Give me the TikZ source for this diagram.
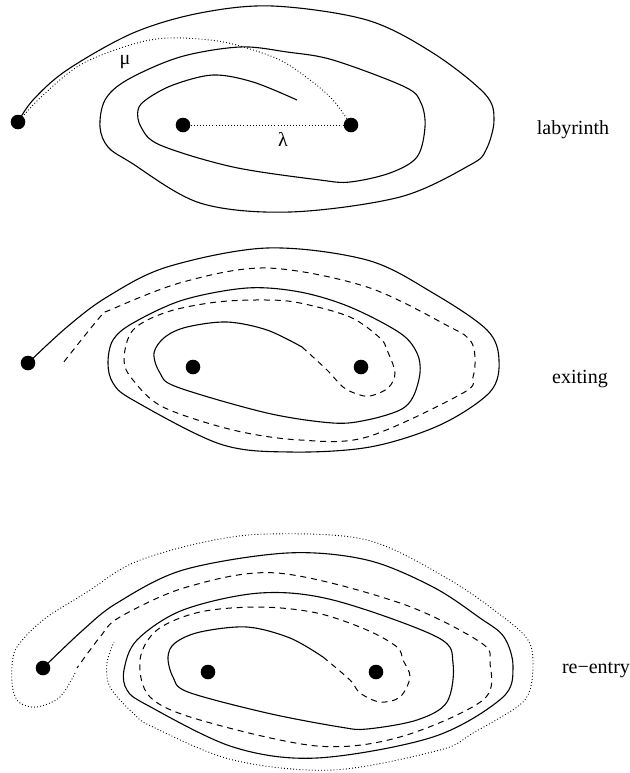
\documentclass[tikz,border=0pt]{standalone}
\usepackage{fontspec}
\setmainfont{Liberation Serif}
\begin{document}
\begin{tikzpicture}[x=0.5pt,y=-0.5pt,
  dot/.style={circle,fill=black,inner sep=0pt,minimum size=7.3pt},
  solidline/.style={line width=0.55pt},
  dashline/.style={line width=0.5pt,dash pattern=on 3pt off 2.4pt},
  dotline/.style={line width=0.45pt,dash pattern=on 0.45pt off 1.1pt},
  lbl/.style={font=\fontsize{10}{12}\selectfont,inner sep=0pt},
  sm/.style={smooth,tension=0.55}]
\useasboundingbox (0,0) rectangle (629,773);
% ---------------- labyrinth ----------------
\node[dot] (a1) at (18,122) {};
\node[dot] (b1) at (183,125) {};
\node[dot] (c1) at (351,125) {};
\draw[solidline] plot[sm] coordinates {(a1.center) (33,100) (67,70) (133,33) (200,13) (273,6) (367,20) (433,53) (485,94) (494,120) (486,150) (470,165) (400,197) (290,212) (200,203) (130,162) (108,147) (100,127) (105,100) (127,80) (180,57) (240,47) (287,52) (333,60) (405,87) (421,103) (425,127) (417,157) (390,173) (350,182) (320,180) (233,167) (160,145) (141,127) (138,110) (147,99) (173,85) (213,75) (253,82) (297,100)};
\draw[dotline] plot[sm] coordinates {(a1.center) (40,98) (80,65) (130,45) (167,38) (210,40) (240,46) (280,60) (310,80) (333,100) (c1.center)};
\draw[dotline] (b1) -- (c1);
\node[lbl] (mu) at (125,62) {μ};
\node[lbl] (lam) at (283,139) {λ};
\node[lbl] (t1) at (573,130) {labyrinth};
% ---------------- exiting ----------------
\node[dot] (a2) at (28,363) {};
\node[dot] (b2) at (193,367) {};
\node[dot] (c2) at (361,367) {};
\draw[solidline] plot[sm] coordinates {(a2.center) (67,327) (107,297) (167,267) (267,248) (367,260) (433,293) (487,330) (499,360) (490,392) (440,425) (370,447) (290,452) (220,444) (133,400) (113,383) (108,363) (113,340) (133,323) (183,300) (247,288) (300,292) (350,307) (400,333) (417,353) (420,373) (413,397) (400,410) (367,420) (333,423) (267,413) (177,387) (160,373) (154,353) (165,337) (187,327) (227,322) (267,330) (302,347)};
\draw[dashline] plot[sm] coordinates {(302,347) (327,370) (343,387) (357,394) (370,396) (388,388) (395,373) (387,350) (380,338) (350,317) (300,303) (267,300) (217,302) (167,312) (133,330) (124,360) (133,380) (163,407) (233,430) (300,440) (367,437) (463,393) (473,377) (475,357) (470,340) (450,327) (367,287) (267,268) (183,282) (110,310) (100,317) (63,363)};
\node[lbl] (t2) at (580,379) {exiting};
% ---------------- re-entry ----------------
\node[dot] (a3) at (43,668) {};
\node[dot] (b3) at (208,672) {};
\node[dot] (c3) at (376,672) {};
\draw[solidline] plot[sm] coordinates {(a3.center) (83,630) (117,603) (183,570) (287,553) (367,560) (433,587) (480,618) (504,637) (513,667) (502,698) (433,737) (317,758) (233,747) (147,705) (127,690) (124,670) (137,640) (183,610) (260,593) (333,600) (437,637) (453,663) (447,702) (417,720) (367,729) (340,727) (267,713) (188,692) (173,677) (168,657) (175,643) (200,632) (247,627) (290,638) (323,657)};
\draw[dashline] plot[sm] coordinates {(323,657) (350,680) (360,693) (380,702) (400,697) (410,677) (403,660) (397,647) (367,630) (317,613) (260,607) (200,612) (157,630) (140,660) (150,697) (200,720) (317,746) (400,737) (483,700) (490,663) (480,642) (400,603) (277,573) (187,587) (120,617) (100,637) (77,668)};
\draw[dotline] plot[sm] coordinates {(75,673) (60,697) (37,707) (20,703) (13,690) (12,667) (17,647) (43,620) (87,592) (133,563) (200,543) (267,534) (367,540) (450,580) (507,620) (528,640) (533,660) (530,690) (517,707) (473,733) (440,750) (333,770) (233,760) (153,727) (133,713) (110,687) (107,663) (114,642)};
\node[lbl] (t3) at (596,670) {re−entry};
\end{tikzpicture}
\end{document}
